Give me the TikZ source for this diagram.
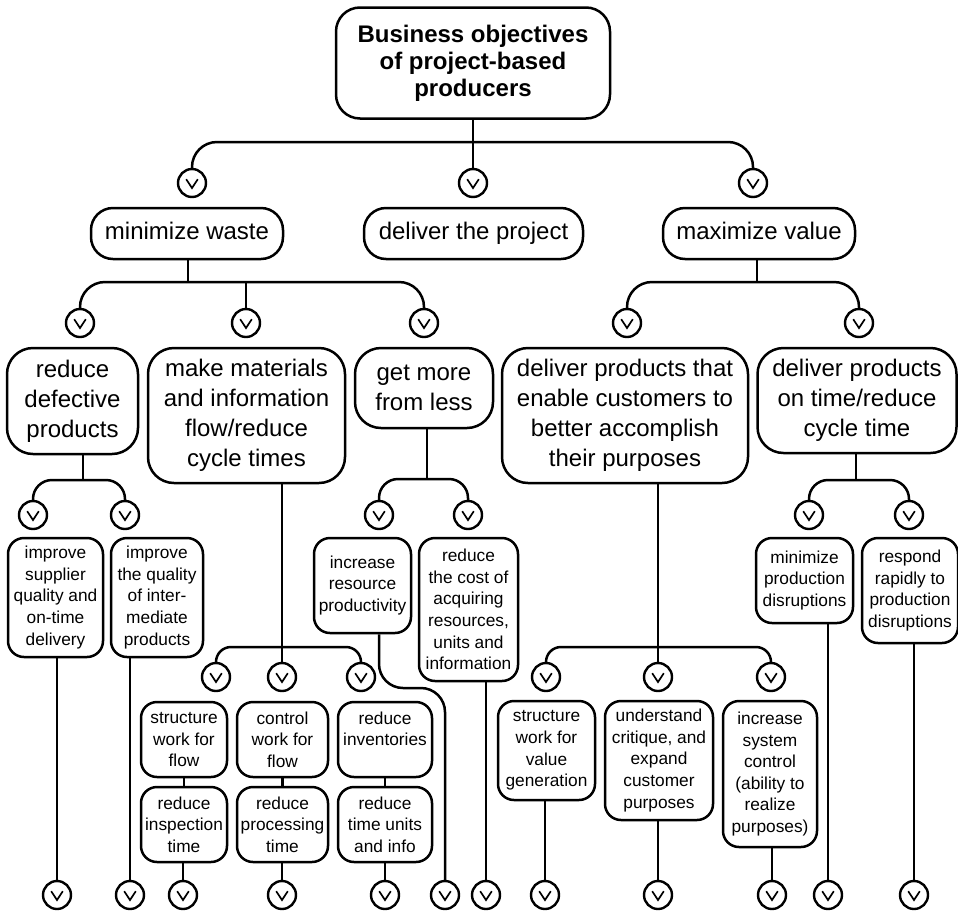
\documentclass[tikz,border=0pt]{standalone}
\usepackage{fontspec}
\setmainfont{Liberation Sans}
\usetikzlibrary{calc}
\tikzset{
  base/.style={draw, line width=2.5pt, align=center, inner sep=0pt, fill=white},
  topbox/.style={base, rounded corners=24pt, font=\bfseries\fontsize{24}{27}\selectfont},
  lvltwo/.style={base, rounded corners=22pt, minimum height=51pt, text height=17pt, text depth=5pt, font=\fontsize{24}{30}\selectfont},
  lvlthree/.style={base, rounded corners=26pt, font=\fontsize{24}{30}\selectfont},
  smallbox/.style={base, rounded corners=16pt, font=\fontsize{17.3}{21.6}\selectfont},
  orc/.style={circle, draw, line width=2.4pt, minimum size=28pt, inner sep=0pt,
    path picture={\draw[line width=1.7pt, line join=miter]
      ([xshift=-5.8pt,yshift=3.8pt]path picture bounding box.center) --
      ([yshift=-5pt]path picture bounding box.center) --
      ([xshift=5.8pt,yshift=3.8pt]path picture bounding box.center);}},
  link/.style={line width=2.5pt},
}
\begin{document}
\begin{tikzpicture}[x=1pt,y=-1pt]
\useasboundingbox (0,0) rectangle (958,911);

% ---------- boxes ----------
\node[topbox, minimum width=274pt, minimum height=111pt] (T) at (473,63) {Business objectives\\of project-based\\producers};

\node[lvltwo, minimum width=192pt] (MW) at (187,233.5) {minimize waste};
\node[lvltwo, minimum width=219pt] (DP) at (473.5,233.5) {deliver the project};
\node[lvltwo, minimum width=192pt] (MV) at (759,233.5) {maximize value};

\node[lvlthree, minimum width=131pt, minimum height=106pt] (RD) at (72.5,401) {reduce\\defective\\products};
\node[lvlthree, minimum width=197pt, minimum height=135pt] (MM) at (246.5,415.5) {make materials\\and information\\flow/reduce\\cycle times};
\node[lvlthree, minimum width=138pt, minimum height=80pt] (GM) at (424,388) {get more\\from less};
\node[lvlthree, minimum width=246pt, minimum height=135pt] (DPE) at (625,415.5) {deliver products that\\enable customers to\\better accomplish\\their purposes};
\node[lvlthree, minimum width=199pt, minimum height=105pt] (DOT) at (857,400.5) {deliver products\\on time/reduce\\cycle time};

\node[smallbox, minimum width=95pt, minimum height=119pt] (ISQ) at (55.5,597.5) {improve\\supplier\\quality and\\on-time\\delivery};
\node[smallbox, minimum width=92pt, minimum height=119pt] (IQI) at (157,597.5) {improve\\the quality\\of inter-\\mediate\\products};
\node[smallbox, minimum width=97pt, minimum height=95pt] (IRP) at (362.5,585.5) {increase\\resource\\productivity};
\node[smallbox, minimum width=99pt, minimum height=143pt] (RC) at (468.5,609.5) {reduce\\the cost of\\acquiring\\resources,\\units and\\information};
\node[smallbox, minimum width=97pt, minimum height=85pt] (MPD) at (804.5,580.5) {minimize\\production\\disruptions};
\node[smallbox, minimum width=96pt, minimum height=105pt] (RRP) at (910,590.5) {respond\\rapidly to\\production\\disruptions};

\node[smallbox, minimum width=86pt, minimum height=75pt] (SWF) at (184,739.5) {structure\\work for\\flow};
\node[smallbox, minimum width=86pt, minimum height=75pt] (RIT) at (184,824.5) {reduce\\inspection\\time};
\node[smallbox, minimum width=91pt, minimum height=75pt] (CWF) at (282.5,739.5) {control\\work for\\flow};
\node[smallbox, minimum width=91pt, minimum height=75pt] (RPT) at (282.5,824.5) {reduce\\processing\\time};
\node[smallbox, minimum width=94pt, minimum height=75pt] (RI) at (385,739.5) {reduce\\inventories\\\mbox{}};
\node[smallbox, minimum width=94pt, minimum height=75pt] (RTU) at (385,824.5) {reduce\\time units\\and info};

\node[smallbox, minimum width=97pt, minimum height=99pt] (SWV) at (546.5,750.5) {structure\\work for\\value\\generation};
\node[smallbox, minimum width=108pt, minimum height=119pt] (UCE) at (659,760.5) {understand\\critique, and\\expand\\customer\\purposes};
\node[smallbox, minimum width=94pt, minimum height=146pt] (ISC) at (770,774) {increase\\system\\control\\(ability to\\realize\\purposes)};

% ---------- circles ----------
\node[orc] (a1) at (192,183) {};
\node[orc] (a2) at (473,183) {};
\node[orc] (a3) at (753,183) {};

\node[orc] (b1) at (80,323) {};
\node[orc] (b2) at (246,323) {};
\node[orc] (b3) at (424,323) {};
\node[orc] (b4) at (627,323) {};
\node[orc] (b5) at (859,323) {};

\node[orc] (c1) at (33,515) {};
\node[orc] (c2) at (125,515) {};
\node[orc] (c3) at (379,515) {};
\node[orc] (c4) at (468,515) {};
\node[orc] (c5) at (809,515) {};
\node[orc] (c6) at (909,515) {};

\node[orc] (d1) at (216,677) {};
\node[orc] (d2) at (282,677) {};
\node[orc] (d3) at (361,677) {};
\node[orc] (d4) at (546,677) {};
\node[orc] (d5) at (658,677) {};
\node[orc] (d6) at (771,677) {};

\node[orc] (e1) at (57,895) {};
\node[orc] (e2) at (130,895) {};
\node[orc] (e3) at (183,895) {};
\node[orc] (e4) at (282,895) {};
\node[orc] (e5) at (385,895) {};
\node[orc] (e6) at (445,895) {};
\node[orc] (e7) at (486,895) {};
\node[orc] (e8) at (545,895) {};
\node[orc] (e9) at (658,895) {};
\node[orc] (e10) at (772,895) {};
\node[orc] (e11) at (828,895) {};
\node[orc] (e12) at (914,895) {};

% ---------- junction coordinates ----------
\coordinate (jT) at (473,142);
\coordinate (jMW) at (188,282);
\coordinate (jMV) at (757,282);
\coordinate (jRD) at (83,480);
\coordinate (jGM) at (427,479);
\coordinate (jDOT) at (856,480);
\coordinate (jMM) at (282,647);
\coordinate (jDPE) at (658,647);
\coordinate (kIRP) at (379,688);

% ---------- connectors ----------
\draw[link] (T.south) -- (a2.north);
\draw[link, rounded corners=25pt] (a1.north) |- (jT) -| (a3.north);

\draw[link] (jMW |- MW.south) -- (jMW);
\draw[link, rounded corners=25pt] (b1.north) |- (jMW) -| (b3.north);
\draw[link] (b2.north) -- (b2.north |- jMW);

\draw[link] (jMV |- MV.south) -- (jMV);
\draw[link, rounded corners=25pt] (b4.north) |- (jMV) -| (b5.north);

\draw[link] (jRD |- RD.south) -- (jRD);
\draw[link, rounded corners=19pt] (c1.north) |- (jRD) -| (c2.north);

\draw[link] (jGM |- GM.south) -- (jGM);
\draw[link, rounded corners=19pt] (c3.north) |- (jGM) -| (c4.north);

\draw[link] (jDOT |- DOT.south) -- (jDOT);
\draw[link, rounded corners=19pt] (c5.north) |- (jDOT) -| (c6.north);

\draw[link] (d2 |- MM.south) -- (d2.north);
\draw[link, rounded corners=15pt] (d1.north) |- (jMM) -| (d3.north);

\draw[link] (d5 |- DPE.south) -- (d5.north);
\draw[link, rounded corners=15pt] (d4.north) |- (jDPE) -| (d6.north);

\draw[link] (e1 |- ISQ.south) -- (e1.north);
\draw[link] (e2 |- IQI.south) -- (e2.north);
\draw[link] (SWF.south) -- (RIT.north);
\draw[link] (CWF.south) -- (RPT.north);
\draw[link] (RI.south) -- (RTU.north);
\draw[link] (e3 |- RIT.south) -- (e3.north);
\draw[link] (e4 |- RPT.south) -- (e4.north);
\draw[link] (e5 |- RTU.south) -- (e5.north);
\draw[link, rounded corners=24pt] (c3 |- IRP.south) -- (kIRP) -- (e6 |- kIRP) -- (e6.north);
\draw[link] (e7 |- RC.south) -- (e7.north);
\draw[link] (e8 |- SWV.south) -- (e8.north);
\draw[link] (e9 |- UCE.south) -- (e9.north);
\draw[link] (e10 |- ISC.south) -- (e10.north);
\draw[link] (e11 |- MPD.south) -- (e11.north);
\draw[link] (e12 |- RRP.south) -- (e12.north);
\end{tikzpicture}
\end{document}
